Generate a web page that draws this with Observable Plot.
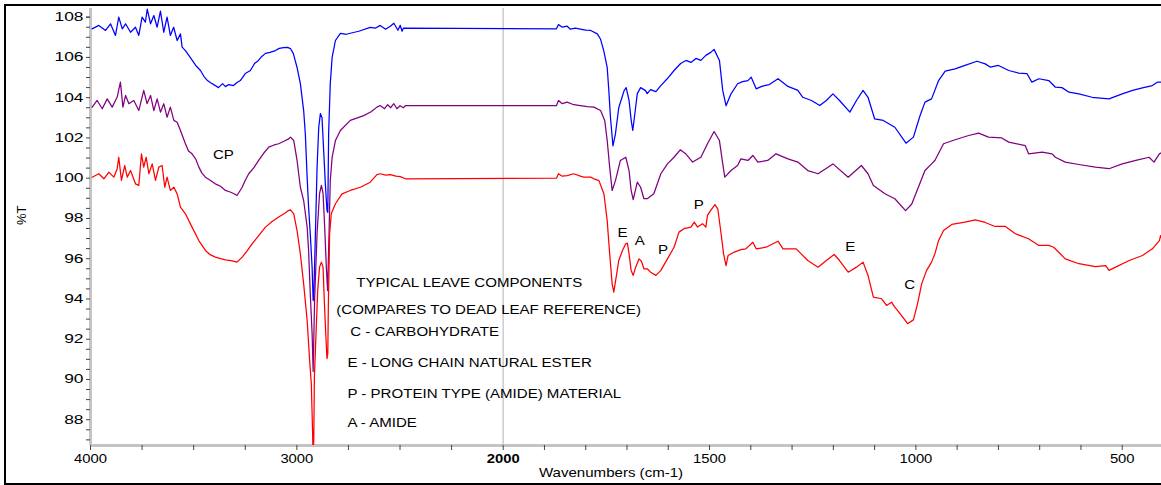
<!DOCTYPE html>
<html><head><meta charset="utf-8">
<script src="https://cdn.jsdelivr.net/npm/d3@7"></script>
<script src="https://cdn.jsdelivr.net/npm/@observablehq/plot@0.6"></script>
<style>
html,body{margin:0;padding:0;background:#fff;}
#wrap{position:relative;width:1161px;height:485px;overflow:hidden;background:#fff;}
#frame{position:absolute;left:4px;top:4px;width:1200px;height:481px;border:2px solid #000;box-sizing:border-box;pointer-events:none;}
#chart svg{display:block;}
</style></head><body>
<div id="wrap"><div id="chart"></div><div id="frame"></div></div>
<script>
// ---------- data ----------
const seriesNames = ["blue", "purple", "red"];
const seriesColors = ["#0000ff", "#800080", "#ff0000"];

const blueWn = [3992,3960,3927,3903,3879,3863,3846,3830,3806,3782,3766,3750,3734,3725,3709,3693,3677,3661,3645,3629,3613,3597,3580,3564,3556,3540,3516,3490,3467,3450,3433,3420,3395,3380,3360,3346,3330,3307,3290,3274,3250,3225,3205,3186,3170,3152,3130,3104,3085,3065,3045,3031,3017,2999,2983,2967,2959,2950,2943,2935,2926,2921,2918,2910,2902,2894,2886,2878,2870,2862,2854,2850,2846,2838,2829,2813,2789,2760,2741,2700,2644,2620,2596,2570,2547,2530,2510,2499,2490,2484,1871,1866,1857,1845,1837,1825,1813,1800,1788,1772,1764,1756,1748,1744,1740,1734,1728,1720,1707,1702,1695,1690,1686,1681,1675,1667,1655,1651,1643,1630,1618,1602,1586,1570,1557,1545,1533,1521,1509,1497,1489,1476,1468,1460,1448,1432,1420,1407,1399,1387,1375,1367,1355,1334,1310,1286,1274,1253,1233,1217,1201,1185,1160,1144,1128,1116,1100,1079,1051,1024,1006,990,978,962,945,929,905,881,852,832,820,800,775,751,731,719,702,678,662,646,629,605,573,532,500,475,451,427,415,402];
const blueT = [107.42,107.59,107.34,107.67,107.09,108.0,107.42,107.67,107.25,107.5,107.09,108.0,107.75,108.4,107.67,108.08,107.5,108.3,107.25,108.0,107.09,107.5,106.84,107.17,106.51,106.34,105.99,105.6,105.35,105.05,104.85,104.75,104.6,104.5,104.7,104.55,104.65,104.6,104.75,104.85,105.2,105.35,105.7,105.85,106.05,106.2,106.25,106.34,106.45,106.49,106.5,106.44,106.19,105.5,104.7,103.36,102.22,100.03,98.54,97.25,95.56,93.92,94.1,97.25,100.53,102.52,103.21,103.0,101.38,99.74,98.4,98.3,102.22,104.7,106.0,106.84,107.19,107.15,107.2,107.3,107.49,107.45,107.59,107.4,107.55,107.7,107.35,107.6,107.3,107.45,107.42,107.63,107.5,107.55,107.4,107.45,107.4,107.35,107.34,107.17,106.9,106.3,105.5,104.35,103.0,101.6,102.2,103.5,104.35,104.5,103.86,102.9,102.37,103.2,104.2,104.5,104.35,104.2,104.4,104.3,104.6,104.95,105.35,105.7,105.85,105.75,105.95,105.85,106.1,106.25,106.4,105.85,104.35,103.6,104.19,104.69,104.8,104.85,105.02,104.44,104.55,104.6,104.65,104.94,104.56,104.36,104.02,103.86,103.61,103.86,104.19,103.86,103.28,103.86,104.36,104.02,102.95,102.87,102.53,101.74,102.04,103.1,103.78,103.94,104.85,105.32,105.43,105.6,105.81,105.68,105.52,105.6,105.35,105.22,105.2,104.77,104.94,104.85,104.52,104.5,104.27,104.19,104.02,103.94,104.19,104.36,104.49,104.6,104.77,104.77];

const purpleWn = [3992,3968,3943,3919,3895,3871,3855,3843,3830,3814,3790,3766,3742,3726,3709,3693,3677,3661,3645,3629,3613,3596,3580,3564,3540,3525,3508,3490,3475,3460,3443,3420,3395,3370,3346,3320,3300,3290,3280,3265,3250,3233,3210,3185,3160,3136,3110,3088,3060,3040,3031,3015,2999,2983,2967,2950,2943,2935,2926,2921,2914,2902,2890,2881,2873,2865,2857,2851,2844,2838,2829,2813,2789,2741,2676,2640,2612,2596,2575,2560,2545,2530,2515,2500,2484,2474,1871,1866,1857,1845,1829,1813,1796,1780,1764,1754,1748,1742,1736,1728,1716,1703,1695,1690,1685,1675,1667,1659,1651,1635,1618,1602,1586,1571,1557,1541,1521,1505,1489,1476,1468,1463,1448,1432,1424,1407,1395,1383,1359,1339,1310,1286,1262,1237,1201,1164,1132,1116,1103,1075,1051,1025,1010,994,978,962,954,933,905,872,848,824,792,775,735,727,694,670,662,638,605,565,532,500,467,435,423,410,402];
const purpleT = [103.53,103.86,103.45,103.94,103.53,104.02,104.77,103.53,104.11,103.7,103.86,103.36,104.36,103.7,104.11,103.36,103.94,103.28,103.7,103.03,103.53,102.87,102.78,102.37,101.71,101.35,101.21,100.95,100.55,100.25,100.05,99.9,99.72,99.6,99.39,99.3,99.2,99.14,99.3,99.55,99.9,100.22,100.5,100.88,101.25,101.54,101.65,101.71,101.85,101.95,102.04,101.87,100.88,99.55,98.89,97.57,96.41,94.27,92.28,90.4,93.92,97.25,99.24,99.64,99.24,97.55,95.56,94.42,97.25,99.89,101.03,101.87,102.37,102.87,103.11,103.3,103.53,103.61,103.45,103.65,103.5,103.7,103.45,103.6,103.5,103.6,103.6,103.86,103.7,103.78,103.65,103.61,103.55,103.53,103.36,102.87,101.87,100.55,99.39,99.88,100.88,101.04,100.38,99.39,98.93,99.8,99.55,98.98,98.98,99.23,100.22,100.71,101.04,101.41,101.2,100.8,101.04,101.71,102.32,101.87,100.71,100.05,100.38,100.63,100.96,100.88,101.13,100.8,100.88,101.21,100.96,100.8,100.38,100.22,100.71,100.05,100.63,100.22,99.64,99.23,98.98,98.39,98.72,99.55,100.38,100.71,100.88,101.71,101.91,102.12,102.24,102.04,102.0,101.79,101.62,101.21,101.29,101.21,101.04,100.8,100.68,100.55,100.47,100.71,100.88,101.04,100.8,101.21,101.29];

const redWn = [3992,3960,3935,3911,3887,3871,3863,3850,3834,3822,3806,3782,3766,3753,3742,3730,3717,3701,3685,3669,3653,3640,3629,3613,3596,3580,3564,3540,3508,3475,3443,3420,3395,3370,3346,3320,3290,3265,3240,3217,3185,3152,3120,3088,3060,3040,3031,3015,2999,2983,2967,2950,2938,2930,2924,2921,2918,2915,2907,2899,2890,2881,2873,2867,2860,2854,2850,2847,2841,2833,2813,2781,2741,2692,2644,2612,2596,2570,2547,2520,2499,2474,1871,1866,1857,1845,1829,1813,1805,1788,1780,1768,1756,1748,1742,1736,1732,1725,1720,1711,1703,1699,1695,1690,1685,1679,1671,1665,1659,1651,1643,1630,1618,1602,1586,1574,1562,1545,1537,1529,1517,1509,1505,1497,1487,1480,1472,1466,1460,1455,1440,1424,1412,1395,1387,1363,1334,1322,1290,1278,1262,1237,1217,1198,1185,1164,1144,1128,1116,1103,1083,1071,1059,1051,1035,1020,1006,996,986,974,962,954,945,933,913,881,856,832,808,783,759,727,702,678,666,638,605,565,540,532,516,483,451,427,410,407,402];
const redT = [100.05,100.22,99.97,100.3,100.05,100.46,101.04,99.89,100.63,100.05,100.38,99.72,99.64,101.21,100.55,101.04,100.22,100.71,99.89,100.55,100.63,99.55,100.05,99.39,99.55,99.22,98.56,98.23,97.57,96.9,96.41,96.2,96.08,96.0,95.94,95.9,95.83,96.08,96.4,96.74,97.15,97.57,97.85,98.07,98.25,98.39,98.43,98.23,97.4,96.24,94.75,92.93,90.94,89.8,87.5,86.0,87.0,90.11,92.28,94.42,95.58,95.83,95.58,93.92,92.28,91.04,91.3,93.92,97.25,98.25,98.73,99.22,99.39,99.55,99.8,100.18,100.22,100.15,100.18,100.1,100.08,99.97,100.0,100.22,100.1,100.13,100.22,100.1,100.05,100.05,99.97,99.88,99.23,97.9,96.24,94.75,94.34,95.25,95.91,96.41,96.74,96.77,96.24,95.42,95.17,95.58,95.99,95.87,95.5,95.5,95.33,95.17,95.42,95.99,96.57,97.32,97.49,97.57,97.82,97.57,97.74,97.57,98.15,98.4,98.69,98.48,97.24,96.24,95.66,96.16,96.33,96.45,96.49,96.82,96.49,96.57,96.87,96.49,96.49,96.24,95.91,95.58,95.91,96.21,95.91,95.33,95.58,95.83,95.17,94.09,94.01,93.68,93.84,93.59,93.18,92.77,92.96,93.76,94.75,95.42,95.83,96.24,96.9,97.4,97.7,97.82,97.93,97.8,97.6,97.6,97.24,96.99,96.66,96.66,96.57,95.99,95.75,95.61,95.66,95.42,95.58,95.91,96.16,96.49,96.9,97.15,96.9];

// axis ticks / labels
const xTickLabels = [4000, 3000, 2000, 1500, 1000, 500];
const xMinorTicks = [3750, 3500, 3250, 2750, 2500, 2250, 1900, 1800, 1700, 1600, 1400, 1300, 1200, 1100, 900, 800, 700, 600];
const yTickLabels = [88, 90, 92, 94, 96, 98, 100, 102, 104, 106, 108];
const yMinorTicks = [87, 87.5, 88.5, 89, 89.5, 90.5, 91, 91.5, 92.5, 93, 93.5, 94.5, 95, 95.5, 96.5, 97, 97.5, 98.5, 99, 99.5, 100.5, 101, 101.5, 102.5, 103, 103.5, 104.5, 105, 105.5, 106.5, 107, 107.5, 108];
const xEnds = [4000, 400];
const xSplit = 2000;
const yDomain = [86.72, 108.43];
const xTitle = "Wavenumbers (cm-1)";
const yTitle = "%T";

// annotation texts
const noteText = ["TYPICAL LEAVE COMPONENTS", "(COMPARES TO DEAD LEAF REFERENCE)", "C - CARBOHYDRATE", "E - LONG CHAIN NATURAL ESTER", "P - PROTEIN TYPE (AMIDE) MATERIAL", "A - AMIDE"];
const noteWn = [2712, 2809, 2741, 2755, 2755, 2755];
const noteT = [94.82, 93.48, 92.38, 90.84, 89.30, 87.86];
const peakText = ["CP", "E", "A", "P", "P", "E", "C"];
const peakWn = [3356, 1711, 1669, 1613, 1526, 1159, 1015];
const peakT = [101.15, 97.30, 96.87, 96.44, 98.69, 96.57, 94.72];

// ---------- build ----------
// split wavenumber axis: the region above 2000 cm-1 is compressed 2x
const split = w => (w >= xSplit ? (w - xSplit) / 2 : w - xSplit);
const unsplit = u => Math.round(u >= 0 ? xSplit + 2 * u : xSplit + u);

const wnArr = [blueWn, purpleWn, redWn];
const tArr = [blueT, purpleT, redT];
const rows = seriesNames.flatMap((s, k) => wnArr[k].map((w, i) => ({series: s, u: split(w), t: tArr[k][i]})));
const notes = noteText.map((t, i) => ({text: t, u: split(noteWn[i]), t: noteT[i]}));
const peaks = peakText.map((t, i) => ({text: t, u: split(peakWn[i]), t: peakT[i]}));

const font = "Liberation Sans, Arial, Helvetica, sans-serif";
const axisGray = "#c4c4c4";
const fmt = u => String(unsplit(u));

const svg = Plot.plot({
  width: 1161,
  height: 485,
  marginTop: 8,
  marginBottom: 40,
  marginLeft: 90,
  marginRight: 0,
  style: {fontFamily: font, fontSize: "13px", color: "#000", background: "transparent"},
  x: {domain: xEnds.map(split), range: [90, 1163], label: null},
  y: {domain: yDomain, label: null},
  color: {domain: seriesNames, range: seriesColors},
  marks: [
    Plot.ruleX([split(xSplit)], {stroke: "#cccccc", strokeWidth: 1.5}),
    Plot.ruleX([split(xEnds[0])], {stroke: axisGray, strokeWidth: 3}),
    Plot.ruleY([yDomain[0]], {stroke: axisGray, strokeWidth: 3}),
    Plot.axisY({ticks: yMinorTicks, tickSize: 4, tickFormat: () => "", stroke: "#444"}),
    Plot.axisY({ticks: yTickLabels, tickSize: 4, tickPadding: 3, stroke: "#444", fontSize: 12, tickFormat: d => String(d)}),
    Plot.axisX({ticks: xMinorTicks.map(split), tickSize: 5, tickFormat: () => "", stroke: "#444"}),
    Plot.axisX({ticks: xTickLabels.filter(d => d !== xSplit).map(split), tickSize: 5, tickPadding: 3, stroke: "#444", fontSize: 13, tickFormat: fmt}),
    Plot.axisX({ticks: [split(xSplit)], tickSize: 5, tickPadding: 3, stroke: "#444", fontSize: 13, fontWeight: "bold", tickFormat: fmt}),
    Plot.line(rows, {x: "u", y: "t", z: "series", stroke: "series", strokeWidth: 1.25, clip: true}),
    Plot.text(notes, {x: "u", y: "t", text: "text", textAnchor: "start", lineAnchor: "middle", fontSize: 13, fill: "#000"}),
    Plot.text(peaks, {x: "u", y: "t", text: "text", textAnchor: "middle", lineAnchor: "middle", fontSize: 13, fill: "#000"}),
    Plot.text([xTitle], {text: d => d, frameAnchor: "bottom", dx: -15, dy: 27, lineAnchor: "middle", fontSize: 13, fill: "#000"}),
    Plot.text([yTitle], {text: d => d, frameAnchor: "left", dx: -69, dy: -2, rotate: -90, lineAnchor: "middle", fontSize: 13, fill: "#000"})
  ]
});
document.getElementById("chart").append(svg);

// horizontal stretching of the glyphs, as in the reference rendering:
// scale each text horizontally about its anchor (vertical offsets such as y="0.32em" are kept)
const yLabelSet = new Set(yTickLabels.map(String));
svg.querySelectorAll("text").forEach(t => {
  const tr = t.getAttribute("transform") || "";
  if (tr.includes("rotate")) return;
  const s = t.textContent.trim();
  if (!s) return;
  const k = yLabelSet.has(s) ? 1.45 : (/^\d{3,4}$/.test(s) ? 1.14 : 1.16);
  const xa = t.getAttribute("x");
  let x = 0;
  if (xa !== null && /^-?[\d.]+$/.test(xa.trim())) { x = +xa; t.removeAttribute("x"); }
  t.setAttribute("transform", `${tr} translate(${x},0) scale(${k},1)`);
});
</script></body></html>
